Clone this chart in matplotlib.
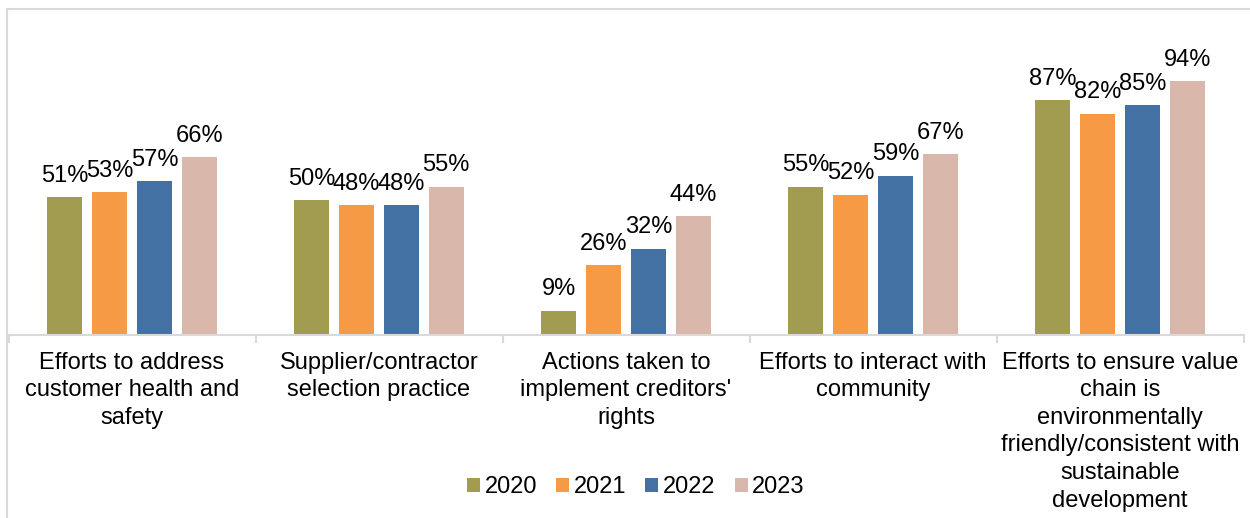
import numpy as np
import matplotlib
matplotlib.use("Agg")
import matplotlib.pyplot as plt
from matplotlib.lines import Line2D

plt.rcParams['font.family'] = ['Liberation Sans', 'DejaVu Sans']

categories = ["Efforts to address\ncustomer health and\nsafety",
              "Supplier/contractor\nselection practice",
              "Actions taken to\nimplement creditors'\nrights",
              "Efforts to interact with\ncommunity",
              "Efforts to ensure value\nchain is\nenvironmentally\nfriendly/consistent with\nsustainable\ndevelopment"]
years = ["2020", "2021", "2022", "2023"]
v2020 = [51, 50, 9, 55, 87]
v2021 = [53, 48, 26, 52, 82]
v2022 = [57, 48, 32, 59, 85]
v2023 = [66, 55, 44, 67, 94]
colors = ["#A19C4F", "#F79A45", "#4371A3", "#D9B7AA"]

W, H = 1250, 518
fs = 17
fig = plt.figure(figsize=(12.5, 5.18), dpi=100)
# outer chart border (top and left visible)
fig.add_artist(Line2D([7/W, 7/W], [0, 1-9/H], color="#D9D9D9", lw=1.5))
fig.add_artist(Line2D([7/W, 1], [1-9/H, 1-9/H], color="#D9D9D9", lw=1.5))

ax = fig.add_axes([8.5/W, 1-335/H, 1235/W, 325/H])
ax.set_xlim(0, 5)
ax.set_ylim(0, 325/2.7)

x = np.arange(len(categories)) + 0.5
step = 0.1813
width = 0.142
series = [v2020, v2021, v2022, v2023]
for i, (vals, yr, c) in enumerate(zip(series, years, colors)):
    pos = x + (i - 1.5) * step
    bars = ax.bar(pos, vals, width=width, color=c, label=yr, zorder=2)
    for xb, v in zip(pos, vals):
        ax.annotate(f"{v}%", (xb, v), xytext=(0, 11), textcoords="offset points",
                    ha="center", va="baseline", fontsize=fs)

for s in ["top", "left", "right"]:
    ax.spines[s].set_visible(False)
ax.spines["bottom"].set_color("#D9D9D9")
ax.spines["bottom"].set_linewidth(1.5)
ax.set_yticks([])
ax.set_xticks(x)
ax.set_xticklabels(categories, fontsize=fs, linespacing=1.33)
ax.tick_params(axis="x", which="major", length=0, pad=12)
ax.set_xticks(np.arange(0, 6), minor=True)
ax.tick_params(axis="x", which="minor", length=5.5, width=1.5, color="#D9D9D9", direction="out")

fig.legend(loc="center", bbox_to_anchor=(636/W, 1-487/H), ncol=4, frameon=False,
           fontsize=fs, handlelength=0.55, handleheight=0.55, handletextpad=0.2,
           columnspacing=0.8, borderaxespad=0)

fig.savefig("out.png", dpi=100)
